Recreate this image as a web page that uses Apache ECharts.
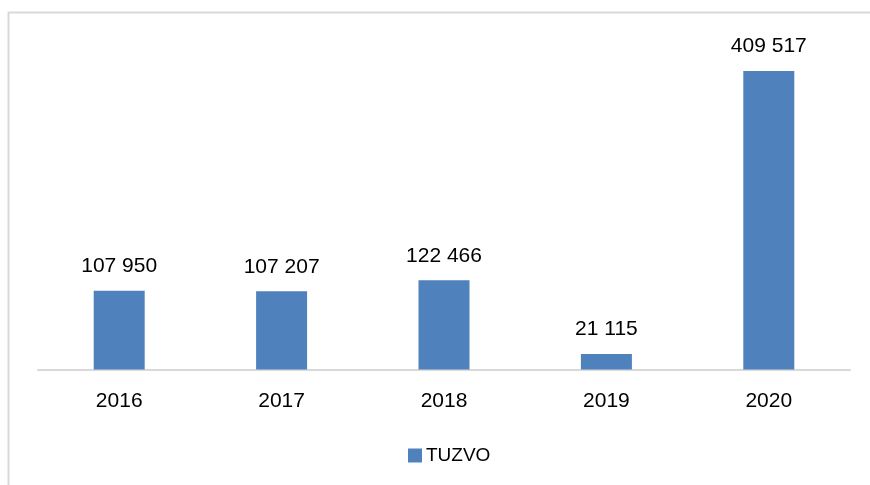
<!DOCTYPE html>
<html>
<head>
<meta charset="utf-8">
<script src="https://cdn.jsdelivr.net/npm/echarts@6/dist/echarts.min.js"></script>
<style>
  html, body { margin: 0; padding: 0; background: #fff; }
  #main { width: 870px; height: 485px; }
</style>
</head>
<body>
<div id="main"></div>
<script>
var years = ['2016', '2017', '2018', '2019', '2020'];
var tuzvo = [107950, 107207, 122466, 21115, 409517];
var seriesName = 'TUZVO';

function fmt(v) {
    return String(v).replace(/\B(?=(\d{3})+(?!\d))/g, ' ');
}

var myChart = echarts.init(document.getElementById('main'));

var option = {
    backgroundColor: '#fff',
    animation: false,
    textStyle: { fontFamily: 'Liberation Sans' },
    graphic: [
        {
            type: 'rect',
            shape: { x: 8.5, y: 12.5, width: 880, height: 500 },
            style: { fill: 'none', stroke: '#d9d9d9', lineWidth: 2 },
            silent: true
        }
    ],
    legend: {
        left: 403,
        top: 441,
        itemWidth: 14,
        itemHeight: 14,
        itemGap: 10,
        icon: 'rect',
        textStyle: { fontSize: 19, color: '#000', fontFamily: 'Liberation Sans', padding: [0, 0, 0, -1] },
        data: [seriesName]
    },
    grid: {
        left: 38,
        right: 20,
        top: 41.5,
        bottom: 115.5
    },
    xAxis: {
        type: 'category',
        data: years,
        axisLine: { lineStyle: { color: '#d9d9d9', width: 2 } },
        axisTick: { show: false },
        axisLabel: { color: '#000', fontSize: 21, margin: 21, fontFamily: 'Liberation Sans' }
    },
    yAxis: {
        type: 'value',
        min: 0,
        max: 450000,
        show: false,
        splitLine: { show: false }
    },
    series: [
        {
            name: seriesName,
            type: 'bar',
            data: tuzvo,
            barWidth: 51,
            itemStyle: { color: '#4f81bd' },
            label: {
                show: true,
                position: 'top',
                distance: 14,
                color: '#000',
                fontSize: 21,
                fontFamily: 'Liberation Sans',
                formatter: function (p) { return fmt(p.value); }
            }
        }
    ]
};

myChart.setOption(option);
</script>
</body>
</html>
